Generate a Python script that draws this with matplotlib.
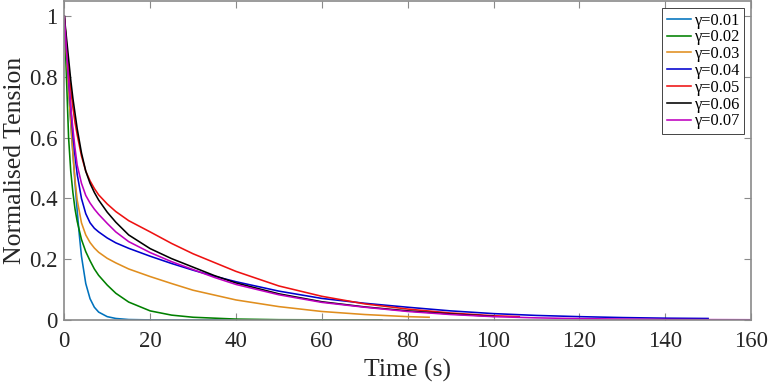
import matplotlib
matplotlib.use("Agg")
import matplotlib.pyplot as plt

# ---- data ----
t_g001 = [0, 0.5, 1, 1.5, 2, 2.5, 3, 3.5, 4, 5, 6, 7, 8, 10, 12, 15, 20, 30, 50]
v_g001 = [1, 0.88, 0.76, 0.65, 0.55, 0.45, 0.36, 0.28, 0.21, 0.12, 0.07, 0.042, 0.026, 0.011, 0.005, 0.0015, 0.0003, 0, 0]

t_g002 = [0, 0.5, 1, 1.5, 2, 2.5, 3, 4, 5, 6, 7, 8, 10, 12, 15, 20, 25, 30, 40, 50, 60, 74]
v_g002 = [1, 0.80, 0.60, 0.49, 0.42, 0.365, 0.325, 0.265, 0.225, 0.195, 0.168, 0.147, 0.115, 0.088, 0.059, 0.03, 0.016, 0.009, 0.003, 0.001, 0.0005, 0.0002]

t_g003 = [0, 0.5, 1, 1.5, 2, 2.5, 3, 4, 5, 6, 7, 8, 10, 12, 15, 20, 25, 30, 40, 50, 60, 70, 80, 85]
v_g003 = [1, 0.88, 0.76, 0.65, 0.55, 0.46, 0.395, 0.32, 0.28, 0.255, 0.237, 0.223, 0.203, 0.188, 0.168, 0.143, 0.12, 0.098, 0.066, 0.044, 0.028, 0.018, 0.011, 0.009]

t_g004 = [0, 0.5, 1, 1.5, 2, 2.5, 3, 4, 5, 6, 7, 8, 10, 12, 15, 20, 25, 30, 35, 40, 50, 60, 70, 80, 90, 100, 110, 120, 130, 140, 150]
v_g004 = [1, 0.90, 0.80, 0.70, 0.61, 0.54, 0.48, 0.40, 0.35, 0.32, 0.302, 0.29, 0.27, 0.254, 0.236, 0.21, 0.186, 0.164, 0.144, 0.126, 0.095, 0.071, 0.055, 0.042, 0.03, 0.021, 0.015, 0.011, 0.008, 0.006, 0.005]

t_g005 = [0, 0.5, 1, 1.5, 2, 2.5, 3, 4, 5, 6, 7, 8, 10, 12, 15, 20, 25, 30, 40, 50, 60, 70, 80, 90, 100, 106]
v_g005 = [1, 0.91, 0.83, 0.76, 0.70, 0.65, 0.61, 0.54, 0.49, 0.458, 0.433, 0.412, 0.382, 0.357, 0.327, 0.29, 0.252, 0.218, 0.16, 0.112, 0.078, 0.053, 0.036, 0.023, 0.014, 0.011]

t_g006 = [0, 0.5, 1, 1.5, 2, 2.5, 3, 4, 5, 6, 7, 8, 10, 12, 15, 20, 25, 30, 35, 40, 50, 60, 70, 80, 90, 100]
v_g006 = [1, 0.93, 0.86, 0.79, 0.73, 0.68, 0.63, 0.55, 0.49, 0.45, 0.42, 0.395, 0.355, 0.322, 0.28, 0.235, 0.202, 0.174, 0.146, 0.122, 0.086, 0.06, 0.043, 0.03, 0.02, 0.012]

t_g007 = [0, 0.5, 1, 1.5, 2, 2.5, 3, 4, 5, 6, 7, 8, 10, 12, 15, 20, 25, 30, 35, 40, 50, 60, 70, 80, 90, 100, 110, 120, 130, 140, 150, 160]
v_g007 = [1, 0.89, 0.79, 0.70, 0.63, 0.565, 0.51, 0.45, 0.41, 0.385, 0.365, 0.348, 0.318, 0.29, 0.258, 0.222, 0.192, 0.166, 0.14, 0.117, 0.083, 0.058, 0.042, 0.028, 0.018, 0.011, 0.007, 0.0045, 0.003, 0.002, 0.0012, 0.0008]

labels = ["γ=0.01", "γ=0.02", "γ=0.03", "γ=0.04", "γ=0.05", "γ=0.06", "γ=0.07"]
colors = ["#0072BD", "#008000", "#E08E1E", "#0000CD", "#EE1111", "#000000", "#BF00BF"]

xticks = [0, 20, 40, 60, 80, 100, 120, 140, 160]
yticks = [0, 0.2, 0.4, 0.6, 0.8, 1]
ytick_labels = ["0", "0.2", "0.4", "0.6", "0.8", "1"]

series = [(t_g001, v_g001), (t_g002, v_g002), (t_g003, v_g003), (t_g004, v_g004),
          (t_g005, v_g005), (t_g006, v_g006), (t_g007, v_g007)]

plt.rcParams["font.family"] = ["Liberation Serif", "DejaVu Serif"]

fig = plt.figure(figsize=(7.71, 3.84), dpi=100)
ax = fig.add_axes([0.0834, 0.1667, 0.8907, 0.8305])

for (t, v), lab, c in zip(series, labels, colors):
    ax.plot(t, v, color=c, lw=1.15, label=lab)

ax.set_xlim(0, 160)
ax.set_ylim(0, 1.05)
ax.set_xticks(xticks)
ax.set_yticks(yticks)
ax.set_yticklabels(ytick_labels)
ax.tick_params(direction="in", length=5, width=0.8, top=True, right=True,
               labelsize=16.5, colors="#8a8a8a", labelcolor="#262626")
ax.tick_params(axis="x", pad=8)
ax.tick_params(axis="y", pad=5)
for s in ax.spines.values():
    s.set_color("#8a8a8a")
    s.set_linewidth(1.2)

ax.set_xlabel("Time (s)", fontsize=18.5, color="#262626", labelpad=5)
ax.set_ylabel("Normalised Tension", fontsize=18.5, color="#262626", labelpad=2)

leg = ax.legend(loc="upper right", fontsize=11.8, frameon=True, fancybox=False,
                framealpha=1, edgecolor="#262626", handlelength=1.45,
                handletextpad=0.2, labelspacing=0.05, borderpad=0.3,
                borderaxespad=0.4)
leg.get_frame().set_linewidth(0.6)

fig.savefig("out.png", dpi=100)
